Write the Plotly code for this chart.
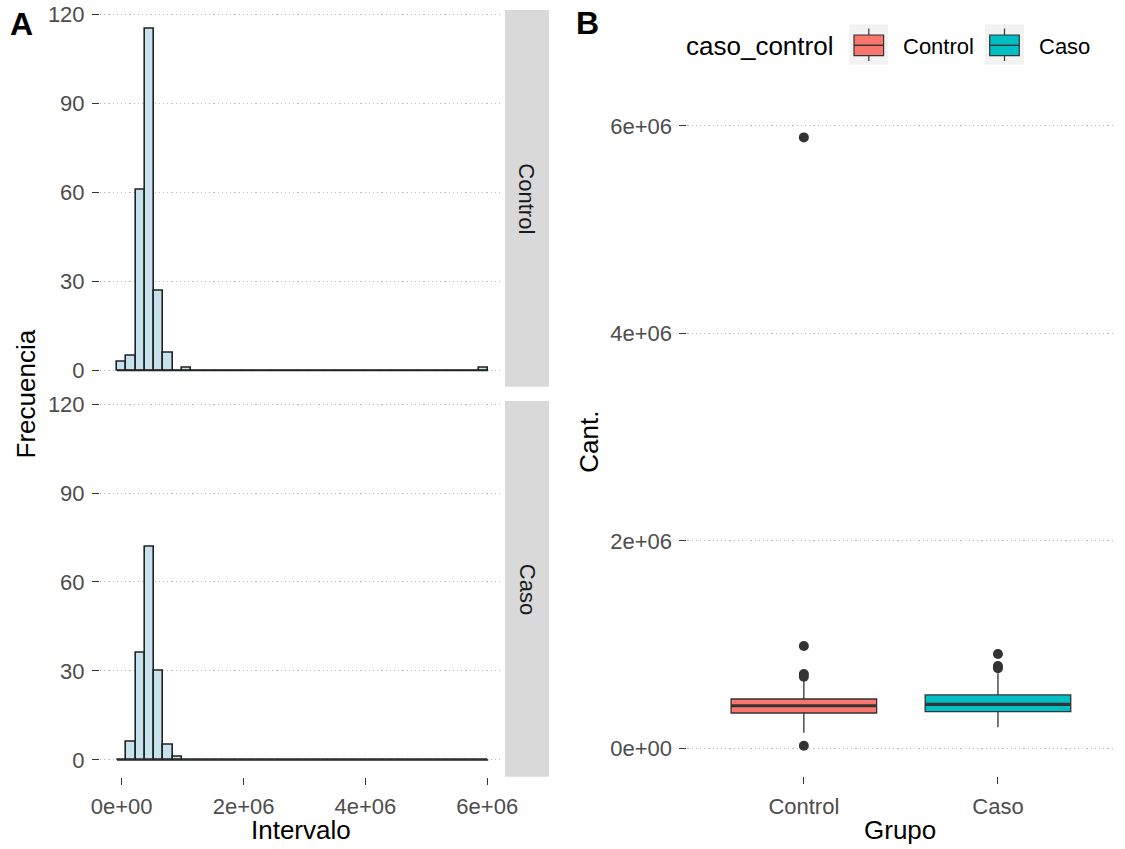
import plotly.graph_objects as go

# ---- data ----------------------------------------------------------------
# Histogram of "Intervalo" (40 equal-width bins, shared across facets)
bin_width = 152300
control_counts = [3, 5, 61, 115, 27, 6, 0, 1] + [0] * 31 + [1]
caso_counts = [0, 6, 36, 72, 30, 5, 1] + [0] * 33
bin_centers = [i * bin_width for i in range(len(control_counts))]

# Box plot summaries of "Cant." by group
groups = ["Control", "Caso"]
box_q1 = [342000, 355000]
box_median = [412000, 426000]
box_q3 = [477000, 516000]
box_lower = [152000, 204000]
box_upper = [660000, 725000]
outliers = {
    "Control": [5890000, 988000, 718000, 692000, 27000],
    "Caso": [911000, 795000, 773000],
}
group_colors = ["#F8766D", "#00BFC4"]

count_ticks = [0, 30, 60, 90, 120]
interval_ticks = [0, 2e6, 4e6, 6e6]
interval_labels = ["0e+00", "2e+06", "4e+06", "6e+06"]
cant_ticks = [0, 2e6, 4e6, 6e6]
cant_labels = ["0e+00", "2e+06", "4e+06", "6e+06"]

# ---- page geometry (pixels) ---------------------------------------------
W, H = 1125, 849
FONT = "Liberation Sans, Arial, sans-serif"
TICK_COLOR = "#4D4D4D"
DARK = "#333333"
GRID = "#BDBDBD"


def fx(px):
    return px / W


def fy(py):
    return 1 - py / H


fig = go.Figure()

# ---- panel A: faceted histograms ----------------------------------------
hist_fill = "#C6E3ED"
for counts, xa, ya in [(control_counts, "x", "y"), (caso_counts, "x2", "y2")]:
    fig.add_trace(go.Bar(
        x=bin_centers, y=counts, width=[bin_width] * len(counts),
        marker=dict(color=hist_fill, line=dict(color="#222222", width=1.6)),
        xaxis=xa, yaxis=ya, showlegend=False, hoverinfo="x+y",
    ))
    # baseline formed by the empty bins
    fig.add_trace(go.Scatter(
        x=[bin_centers[0] - bin_width / 2, bin_centers[-1] + bin_width / 2], y=[0, 0],
        mode="lines", line=dict(color="#222222", width=1.6),
        xaxis=xa, yaxis=ya, showlegend=False, hoverinfo="skip",
    ))

# ---- panel B: box plots --------------------------------------------------
box_w = 0.75
for i, g in enumerate(groups):
    pos = i + 1
    fig.add_trace(go.Box(
        x=[pos], q1=[box_q1[i]], median=[box_median[i]], q3=[box_q3[i]],
        lowerfence=[box_lower[i]], upperfence=[box_upper[i]],
        width=box_w, whiskerwidth=0, fillcolor=group_colors[i],
        line=dict(color=DARK, width=1.3), boxpoints=False,
        xaxis="x3", yaxis="y3", showlegend=False, name=g,
    ))
    # thicker median bar
    fig.add_trace(go.Scatter(
        x=[pos - box_w / 2, pos + box_w / 2], y=[box_median[i]] * 2,
        mode="lines", line=dict(color=DARK, width=3.2),
        xaxis="x3", yaxis="y3", showlegend=False, hoverinfo="skip",
    ))
    fig.add_trace(go.Scatter(
        x=[pos] * len(outliers[g]), y=outliers[g], mode="markers",
        marker=dict(color=DARK, size=10),
        xaxis="x3", yaxis="y3", showlegend=False,
    ))

axis_common = dict(
    showline=False, zeroline=False, ticks="outside", ticklen=7, tickwidth=1.4,
    tickcolor=DARK, tickfont=dict(family=FONT, size=22, color=TICK_COLOR),
    ticklabelstandoff=3, automargin=False,
)
ygrid = dict(showgrid=True, gridcolor=GRID, gridwidth=1.1, griddash="1.2px,3px")

hist_x = [100, 502]
hist_range_x = [-356000, 6242000]
hist_range_y = [-5.75, 120.75]

fig.update_layout(
    width=W, height=H,
    margin=dict(l=0, r=0, t=0, b=0, autoexpand=False),
    plot_bgcolor="white", paper_bgcolor="white", bargap=0, showlegend=False,
    font=dict(family=FONT),
    xaxis=dict(domain=[fx(hist_x[0]), fx(hist_x[1])], range=hist_range_x,
               anchor="y", showticklabels=False, showgrid=False, zeroline=False,
               ticks="", matches="x2"),
    yaxis=dict(domain=[fy(387.6), fy(11.8)], range=hist_range_y, anchor="x",
               tickvals=count_ticks, **axis_common, **ygrid),
    xaxis2=dict(domain=[fx(hist_x[0]), fx(hist_x[1])], range=hist_range_x,
                anchor="y2", tickvals=interval_ticks, ticktext=interval_labels,
                showgrid=False, **axis_common),
    yaxis2=dict(domain=[fy(777.0), fy(401.8)], range=hist_range_y, anchor="x2",
                tickvals=count_ticks, **axis_common, **ygrid),
    xaxis3=dict(domain=[fx(687.4), fx(1114.4)], range=[0.4, 2.6], anchor="y3",
                tickvals=[1, 2], ticktext=groups, showgrid=False, **axis_common),
    yaxis3=dict(domain=[fy(776.1), fy(107.3)], range=[-266000, 6180000],
                anchor="x3", tickvals=cant_ticks, ticktext=cant_labels,
                **axis_common, **ygrid),
)

shapes = []
annotations = []


def label(x, y, text, size, color="black", angle=0, xanchor="center"):
    return dict(x=fx(x), y=fy(y), xref="paper", yref="paper", text=text,
                showarrow=False, textangle=angle, xanchor=xanchor,
                yanchor="middle", font=dict(family=FONT, size=size, color=color))


# facet strips
for (top, bottom), name in [((10, 386.7), "Control"), ((401, 776.7), "Caso")]:
    shapes.append(dict(type="rect", xref="paper", yref="paper",
                       x0=fx(505), x1=fx(549), y0=fy(bottom), y1=fy(top),
                       fillcolor="#D9D9D9", line=dict(width=0), layer="below"))
    annotations.append(label(527, (top + bottom) / 2, name, 22, "#1A1A1A", 90))

# axis titles
annotations += [
    label(25, 394.5, "Frecuencia", 26, angle=-90),
    label(301, 830, "Intervalo", 26),
    label(589, 441.7, "Cant.", 26, angle=-90),
    label(900, 830, "Grupo", 26),
]

# panel tags
annotations.append(label(21, 24.5, "<b>A</b>", 32))
annotations.append(label(588, 23.5, "<b>B</b>", 32))

# legend
annotations.append(label(684, 46, "caso_control", 26, xanchor="left"))
legend_keys = [(849.3, 901), (985, 1037)]
for (kx, tx), g, col in zip(legend_keys, groups, group_colors):
    shapes.append(dict(type="rect", xref="paper", yref="paper",
                       x0=fx(kx), x1=fx(kx + 39), y0=fy(64.5), y1=fy(24.5),
                       fillcolor="#F2F2F2", line=dict(width=0)))
    cx = kx + 19.5
    for y0, y1 in [(28.5, 35), (55.7, 61)]:
        shapes.append(dict(type="line", xref="paper", yref="paper",
                           x0=fx(cx), x1=fx(cx), y0=fy(y0), y1=fy(y1),
                           line=dict(color=DARK, width=1.2)))
    shapes.append(dict(type="rect", xref="paper", yref="paper",
                       x0=fx(kx + 4.7), x1=fx(kx + 34.3), y0=fy(55.7), y1=fy(35),
                       fillcolor=col, line=dict(color=DARK, width=1.2)))
    shapes.append(dict(type="line", xref="paper", yref="paper",
                       x0=fx(kx + 4.7), x1=fx(kx + 34.3), y0=fy(45.3), y1=fy(45.3),
                       line=dict(color=DARK, width=1.4)))
    annotations.append(label(tx, 46, g, 22, xanchor="left"))

fig.update_layout(shapes=shapes, annotations=annotations)

fig.write_html("out.html", config={"responsive": False},
               post_script="document.body.style.margin='0';")
